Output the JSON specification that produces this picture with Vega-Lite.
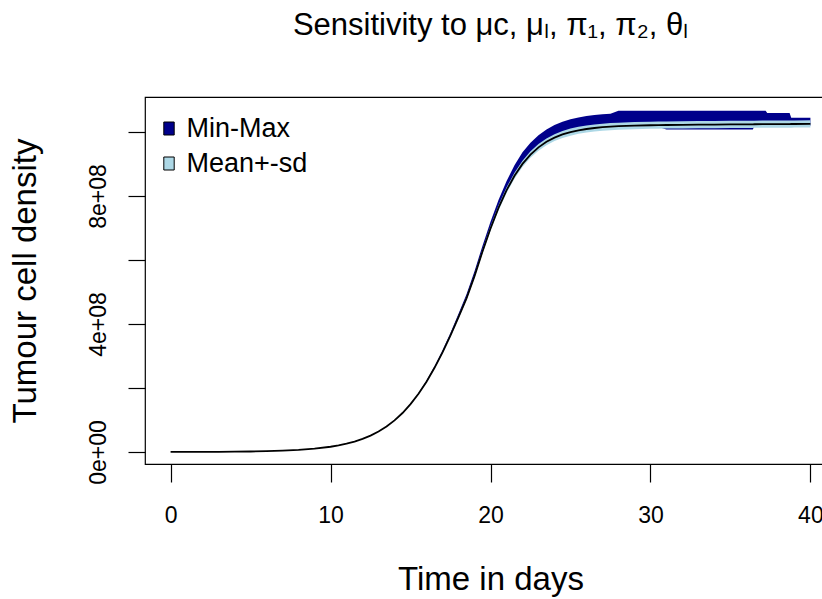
{
  "$schema": "https://vega.github.io/schema/vega-lite/v6.json",
  "width": 691,
  "height": 367,
  "autosize": {"type": "none"},
  "padding": {"left": 145, "top": 97, "right": 0, "bottom": 135},
  "background": "white",
  "title": {
    "text": "Sensitivity to μc, μₗ, π₁, π₂, θₗ",
    "font": "Liberation Sans",
    "fontSize": 31,
    "fontWeight": "normal",
    "color": "black",
    "anchor": "middle",
    "baseline": "alphabetic",
    "offset": 31
  },
  "config": {
    "view": {"stroke": "black", "strokeWidth": 1.2},
    "font": "Liberation Sans"
  },
  "data": {
    "values": [
      {"t": 0, "mean": 1.52e5, "lo": 1.503e5, "hi": 1.537e5, "ymin": 1.512e5, "ymax": 1.52e5},
      {"t": 1, "mean": 2.43e5, "lo": 2.403e5, "hi": 2.457e5, "ymin": 2.417e5, "ymax": 2.43e5},
      {"t": 2, "mean": 3.89e5, "lo": 3.847e5, "hi": 3.933e5, "ymin": 3.869e5, "ymax": 3.89e5},
      {"t": 3, "mean": 6.22e5, "lo": 6.152e5, "hi": 6.288e5, "ymin": 6.186e5, "ymax": 6.22e5},
      {"t": 4, "mean": 9.94e5, "lo": 9.83e5, "hi": 1.005e6, "ymin": 9.885e5, "ymax": 9.94e5},
      {"t": 5, "mean": 1.59e6, "lo": 1.573e6, "hi": 1.607e6, "ymin": 1.581e6, "ymax": 1.59e6},
      {"t": 6, "mean": 2.542e6, "lo": 2.514e6, "hi": 2.57e6, "ymin": 2.528e6, "ymax": 2.542e6},
      {"t": 7, "mean": 4.059e6, "lo": 4.014e6, "hi": 4.104e6, "ymin": 4.037e6, "ymax": 4.059e6},
      {"t": 8, "mean": 6.481e6, "lo": 6.41e6, "hi": 6.552e6, "ymin": 6.445e6, "ymax": 6.481e6},
      {"t": 9, "mean": 1.032e7, "lo": 1.021e7, "hi": 1.043e7, "ymin": 1.026e7, "ymax": 1.032e7},
      {"t": 10, "mean": 1.643e7, "lo": 1.625e7, "hi": 1.661e7, "ymin": 1.634e7, "ymax": 1.643e7},
      {"t": 10.5, "mean": 2.069e7, "lo": 2.046e7, "hi": 2.092e7, "ymin": 2.058e7, "ymax": 2.069e7},
      {"t": 11, "mean": 2.603e7, "lo": 2.574e7, "hi": 2.632e7, "ymin": 2.589e7, "ymax": 2.603e7},
      {"t": 11.5, "mean": 3.27e7, "lo": 3.234e7, "hi": 3.306e7, "ymin": 3.252e7, "ymax": 3.27e7},
      {"t": 12, "mean": 4.101e7, "lo": 4.056e7, "hi": 4.146e7, "ymin": 4.078e7, "ymax": 4.101e7},
      {"t": 12.5, "mean": 5.133e7, "lo": 5.077e7, "hi": 5.189e7, "ymin": 5.105e7, "ymax": 5.133e7},
      {"t": 13, "mean": 6.407e7, "lo": 6.337e7, "hi": 6.477e7, "ymin": 6.372e7, "ymax": 6.407e7},
      {"t": 13.5, "mean": 7.975e7, "lo": 7.887e7, "hi": 8.063e7, "ymin": 7.931e7, "ymax": 7.995e7},
      {"t": 14, "mean": 9.881e7, "lo": 9.772e7, "hi": 9.99e7, "ymin": 9.827e7, "ymax": 9.93e7},
      {"t": 14.5, "mean": 1.2185e8, "lo": 1.2051e8, "hi": 1.2319e8, "ymin": 1.2118e8, "ymax": 1.2276e8},
      {"t": 15, "mean": 1.4941e8, "lo": 1.4777e8, "hi": 1.5105e8, "ymin": 1.4859e8, "ymax": 1.509e8},
      {"t": 15.5, "mean": 1.8192e8, "lo": 1.7992e8, "hi": 1.8392e8, "ymin": 1.8092e8, "ymax": 1.8419e8},
      {"t": 16, "mean": 2.1973e8, "lo": 2.1731e8, "hi": 2.2215e8, "ymin": 2.1852e8, "ymax": 2.2303e8},
      {"t": 16.5, "mean": 2.6295e8, "lo": 2.6006e8, "hi": 2.6584e8, "ymin": 2.615e8, "ymax": 2.6756e8},
      {"t": 17, "mean": 3.1135e8, "lo": 3.0792e8, "hi": 3.1477e8, "ymin": 3.0964e8, "ymax": 3.1758e8},
      {"t": 17.5, "mean": 3.6435e8, "lo": 3.6034e8, "hi": 3.6836e8, "ymin": 3.6235e8, "ymax": 3.7253e8},
      {"t": 18, "mean": 4.2104e8, "lo": 4.1641e8, "hi": 4.2567e8, "ymin": 4.1872e8, "ymax": 4.3157e8},
      {"t": 18.5, "mean": 4.8006e8, "lo": 4.7478e8, "hi": 4.8534e8, "ymin": 4.7742e8, "ymax": 4.927e8},
      {"t": 19, "mean": 5.4945e8, "lo": 5.4341e8, "hi": 5.5549e8, "ymin": 5.4643e8, "ymax": 5.6483e8},
      {"t": 19.5, "mean": 6.2654e8, "lo": 6.1965e8, "hi": 6.3343e8, "ymin": 6.2309e8, "ymax": 6.447e8},
      {"t": 20, "mean": 6.9837e8, "lo": 6.9069e8, "hi": 7.0605e8, "ymin": 6.9453e8, "ymax": 7.1932e8},
      {"t": 20.5, "mean": 7.6239e8, "lo": 7.54e8, "hi": 7.7078e8, "ymin": 7.582e8, "ymax": 7.8716e8},
      {"t": 21, "mean": 8.1747e8, "lo": 8.0848e8, "hi": 8.2646e8, "ymin": 8.1297e8, "ymax": 8.4608e8},
      {"t": 21.5, "mean": 8.631e8, "lo": 8.5361e8, "hi": 8.7259e8, "ymin": 8.5835e8, "ymax": 8.9547e8},
      {"t": 22, "mean": 9.0002e8, "lo": 8.9012e8, "hi": 9.0992e8, "ymin": 8.9507e8, "ymax": 9.3602e8},
      {"t": 22.5, "mean": 9.2913e8, "lo": 9.1891e8, "hi": 9.3935e8, "ymin": 9.2402e8, "ymax": 9.663e8},
      {"t": 23, "mean": 9.5175e8, "lo": 9.4128e8, "hi": 9.6222e8, "ymin": 9.4652e8, "ymax": 9.8982e8},
      {"t": 23.5, "mean": 9.6903e8, "lo": 9.5837e8, "hi": 9.7969e8, "ymin": 9.637e8, "ymax": 1.00779e9},
      {"t": 24, "mean": 9.8209e8, "lo": 9.7129e8, "hi": 9.9289e8, "ymin": 9.7669e8, "ymax": 1.02137e9},
      {"t": 24.5, "mean": 9.9193e8, "lo": 9.8102e8, "hi": 1.00284e9, "ymin": 9.8647e8, "ymax": 1.03161e9},
      {"t": 25, "mean": 9.9926e8, "lo": 9.8827e8, "hi": 1.01025e9, "ymin": 9.9376e8, "ymax": 1.03923e9},
      {"t": 25.5, "mean": 1.00488e9, "lo": 9.9383e8, "hi": 1.01593e9, "ymin": 9.9935e8, "ymax": 1.04508e9},
      {"t": 26, "mean": 1.00907e9, "lo": 9.9797e8, "hi": 1.02017e9, "ymin": 1.00352e9, "ymax": 1.04943e9},
      {"t": 26.5, "mean": 1.01221e9, "lo": 1.00108e9, "hi": 1.02334e9, "ymin": 1.00664e9, "ymax": 1.0527e9},
      {"t": 27, "mean": 1.01459e9, "lo": 1.00343e9, "hi": 1.02575e9, "ymin": 1.00901e9, "ymax": 1.05517e9},
      {"t": 27.5, "mean": 1.0163e9, "lo": 1.00512e9, "hi": 1.02748e9, "ymin": 1.01071e9, "ymax": 1.05695e9},
      {"t": 28, "mean": 1.01772e9, "lo": 1.00653e9, "hi": 1.02891e9, "ymin": 1.01212e9, "ymax": 1.066e9},
      {"t": 29, "mean": 1.01956e9, "lo": 1.00834e9, "hi": 1.03078e9, "ymin": 1.01395e9, "ymax": 1.066e9},
      {"t": 30, "mean": 1.02072e9, "lo": 1.00949e9, "hi": 1.03195e9, "ymin": 1.01511e9, "ymax": 1.066e9},
      {"t": 30.5, "mean": 1.02113e9, "lo": 1.0099e9, "hi": 1.03236e9, "ymin": 1.01551e9, "ymax": 1.066e9},
      {"t": 31, "mean": 1.02149e9, "lo": 1.01025e9, "hi": 1.03273e9, "ymin": 1.0075e9, "ymax": 1.066e9},
      {"t": 32, "mean": 1.02205e9, "lo": 1.01081e9, "hi": 1.03329e9, "ymin": 1.0075e9, "ymax": 1.066e9},
      {"t": 33, "mean": 1.02253e9, "lo": 1.01128e9, "hi": 1.03378e9, "ymin": 1.0075e9, "ymax": 1.066e9},
      {"t": 34, "mean": 1.02292e9, "lo": 1.01167e9, "hi": 1.03417e9, "ymin": 1.0075e9, "ymax": 1.066e9},
      {"t": 35, "mean": 1.02329e9, "lo": 1.01203e9, "hi": 1.03455e9, "ymin": 1.0075e9, "ymax": 1.066e9},
      {"t": 36, "mean": 1.02365e9, "lo": 1.01239e9, "hi": 1.03491e9, "ymin": 1.0075e9, "ymax": 1.066e9},
      {"t": 36.4, "mean": 1.02378e9, "lo": 1.01252e9, "hi": 1.03504e9, "ymin": 1.0075e9, "ymax": 1.066e9},
      {"t": 36.5, "mean": 1.02382e9, "lo": 1.01256e9, "hi": 1.03508e9, "ymin": 1.01819e9, "ymax": 1.066e9},
      {"t": 37, "mean": 1.02399e9, "lo": 1.01273e9, "hi": 1.03525e9, "ymin": 1.01836e9, "ymax": 1.066e9},
      {"t": 37.2, "mean": 1.02406e9, "lo": 1.0128e9, "hi": 1.03532e9, "ymin": 1.01843e9, "ymax": 1.066e9},
      {"t": 37.3, "mean": 1.02409e9, "lo": 1.01283e9, "hi": 1.03535e9, "ymin": 1.01846e9, "ymax": 1.059e9},
      {"t": 38, "mean": 1.02432e9, "lo": 1.01305e9, "hi": 1.03559e9, "ymin": 1.01869e9, "ymax": 1.059e9},
      {"t": 38.7, "mean": 1.02456e9, "lo": 1.01329e9, "hi": 1.03583e9, "ymin": 1.01893e9, "ymax": 1.059e9},
      {"t": 38.8, "mean": 1.02459e9, "lo": 1.01332e9, "hi": 1.03586e9, "ymin": 1.01896e9, "ymax": 1.044e9},
      {"t": 39, "mean": 1.02466e9, "lo": 1.01339e9, "hi": 1.03593e9, "ymin": 1.01903e9, "ymax": 1.044e9},
      {"t": 40, "mean": 1.025e9, "lo": 1.01372e9, "hi": 1.03628e9, "ymin": 1.01936e9, "ymax": 1.044e9}
    ]
  },
  "encoding": {
    "x": {
      "field": "t",
      "type": "quantitative",
      "scale": {"domain": [-1.6, 41.6], "nice": false, "zero": false},
      "axis": {
        "values": [0, 10, 20, 30, 40],
        "domain": false,
        "grid": false,
        "tickSize": 18,
        "tickColor": "black",
        "tickWidth": 1.2,
        "labelFont": "Liberation Sans",
        "labelFontSize": 23,
        "labelColor": "black",
        "labelPadding": 22,
        "labelFlush": false,
        "labelOverlap": false,
        "title": "Time in days",
        "titleFont": "Liberation Sans",
        "titleFontSize": 33,
        "titleFontWeight": "normal",
        "titleColor": "black",
        "titlePadding": 36
      }
    }
  },
  "layer": [
    {
      "mark": {"type": "area", "opacity": 1},
      "encoding": {
        "y": {
          "field": "ymax",
          "type": "quantitative",
          "scale": {"domain": [-3.75e7, 1.109e9], "nice": false, "zero": false},
          "axis": {
            "values": [0, 200000000, 400000000, 600000000, 800000000, 1000000000],
            "labelExpr": "datum.value == 0 ? '0e+00' : datum.value == 400000000 ? '4e+08' : datum.value == 800000000 ? '8e+08' : ''",
            "domain": false,
            "grid": false,
            "tickSize": 17,
            "tickColor": "black",
            "tickWidth": 1.2,
            "labelFont": "Liberation Sans",
            "labelFontSize": 23,
            "labelColor": "black",
            "labelAngle": 270,
            "labelAlign": "center",
            "labelBaseline": "bottom",
            "labelPadding": 18,
            "labelOverlap": false,
            "labelFlush": false,
            "title": "Tumour cell density",
            "titleFont": "Liberation Sans",
            "titleFontSize": 33,
            "titleFontWeight": "normal",
            "titleColor": "black",
            "titlePadding": 45
          }
        },
        "y2": {"field": "ymin"},
        "color": {
          "datum": "Min-Max",
          "type": "nominal",
          "scale": {"domain": ["Min-Max", "Mean+-sd"], "range": ["#00008B", "#ADD8E6"]},
          "legend": {
            "orient": "none",
            "legendX": 10.5,
            "legendY": 18,
            "title": null,
            "symbolType": "M-0.8,-1H0.8V1H-0.8Z",
            "symbolSize": 169,
            "symbolStrokeColor": "black",
            "symbolStrokeWidth": 1,
            "symbolOpacity": 1,
            "labelFont": "Liberation Sans",
            "labelFontSize": 27,
            "labelColor": "black",
            "labelOffset": 4,
            "rowPadding": 7,
            "padding": 0
          }
        }
      }
    },
    {
      "mark": {"type": "area", "opacity": 1},
      "encoding": {
        "y": {"field": "hi", "type": "quantitative"},
        "y2": {"field": "lo"},
        "color": {"datum": "Mean+-sd", "type": "nominal"}
      }
    },
    {
      "mark": {"type": "line", "color": "black", "strokeWidth": 1.8},
      "encoding": {
        "y": {"field": "mean", "type": "quantitative"}
      }
    }
  ]
}
